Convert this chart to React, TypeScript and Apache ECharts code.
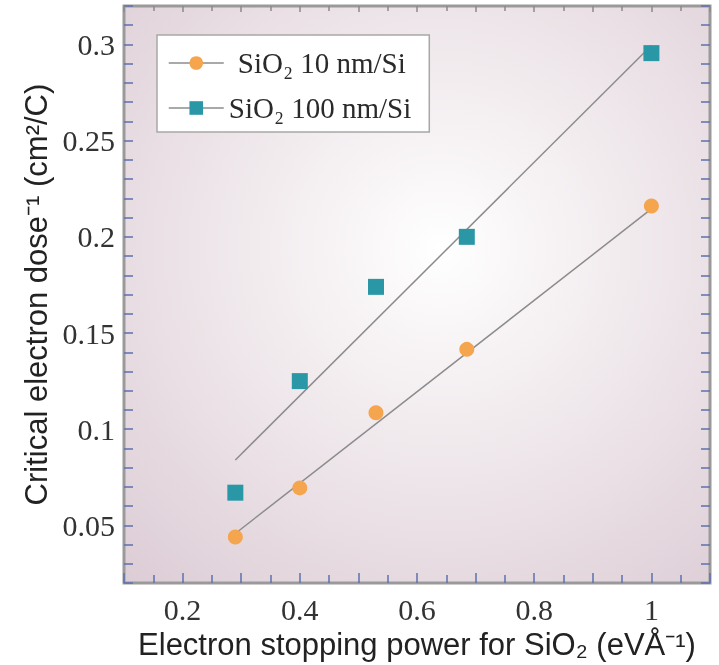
import React, { useEffect, useRef } from "react";
import * as echarts from "echarts";

const stoppingPower = [0.29, 0.4, 0.53, 0.685, 1.0];
const dose10nm = [0.044, 0.0695, 0.1085, 0.1415, 0.216];
const dose100nm = [0.067, 0.125, 0.174, 0.2, 0.2955];
const fit10nmX = [0.29, 1.0];
const fit10nmY = [0.0458, 0.2145];
const fit100nmX = [0.29, 1.0];
const fit100nmY = [0.084, 0.2995];
const seriesNames = ["SiO\u2082 10 nm/Si", "SiO\u2082 100 nm/Si"];
const xLabelTicks = [0.2, 0.4, 0.6, 0.8, 1];
const yLabelTicks = [0.05, 0.1, 0.15, 0.2, 0.25, 0.3];

const SERIF = "'Liberation Serif', 'Times New Roman', serif";
const SANS = "'Liberation Sans', Arial, sans-serif";
const TICK_BLUE = "#5d70ad";

function near(v: number, list: number[]) {
  return list.some((t) => Math.abs(t - v) < 1e-6);
}

export default function App() {
  const ref = useRef<HTMLDivElement>(null);
  useEffect(() => {
    if (!ref.current) return;
    const chart = echarts.init(ref.current, undefined, { renderer: "svg" });
    const pair = (xs: number[], ys: number[]) => xs.map((x, i) => [x, ys[i]]);
    const fmt = (v: number) => String(Number(v.toFixed(3)));
    const option: any = {
      animation: false,
      grid: {
        left: 124,
        right: 9,
        top: 6,
        bottom: 81,
        show: true,
        borderColor: "#9a9a9a",
        borderWidth: 3,
        backgroundColor: new echarts.graphic.RadialGradient(0.54, 0.42, 0.78, [
          { offset: 0, color: "#ffffff" },
          { offset: 0.5, color: "#eee6ea" },
          { offset: 1, color: "#ddcdd6" },
        ]),
      },
      legend: {
        data: seriesNames,
        orient: "vertical",
        left: 157,
        top: 35,
        itemWidth: 55,
        itemHeight: 17,
        itemGap: 15,
        padding: [13, 18, 9, 11],
        backgroundColor: "#ffffff",
        borderColor: "#a8a8a8",
        borderWidth: 1.5,
        borderRadius: 0,
        lineStyle: { color: "#8c8c8c", width: 1.5, opacity: 1 },
        textStyle: {
          fontFamily: SERIF,
          fontSize: 29,
          lineHeight: 30,
          color: "#2a2a2a",
          rich: {
            a: { fontFamily: SERIF, fontSize: 29, lineHeight: 30, color: "#2a2a2a", padding: [0, 0, 0, 9] },
            b: { fontFamily: SERIF, fontSize: 29, lineHeight: 30, color: "#2a2a2a" },
          },
        },
        formatter: (name: string) => (name === seriesNames[0] ? `{a|${name}}` : `{b|${name}}`),
      },
      xAxis: [
        {
          type: "value",
          position: "bottom",
          min: 0.1,
          max: 1.1,
          interval: 0.1,
          name: "Electron stopping power for SiO\u2082 (eV\u00c5\u207b\u00b9)",
          nameLocation: "middle",
          nameGap: 43,
          nameTextStyle: { fontFamily: SANS, fontSize: 31, color: "#222" },
          axisLine: { show: false },
          axisTick: { show: true, inside: true, length: 10, lineStyle: { color: TICK_BLUE, width: 1.5 } },
          minorTick: { show: true, splitNumber: 2, length: 8, lineStyle: { color: TICK_BLUE, width: 1.5 } },
          splitLine: { show: false },
          axisLabel: {
            margin: 11,
            fontFamily: SERIF,
            fontSize: 30,
            color: "#333",
            formatter: (v: number) => (near(v, xLabelTicks) ? fmt(v) : ""),
          },
        },
        {
          type: "value",
          position: "top",
          min: 0.1,
          max: 1.1,
          interval: 0.1,
          axisLine: { show: false },
          axisTick: { show: true, inside: true, length: 6, lineStyle: { color: "#8a8a8a", width: 1.5 } },
          minorTick: { show: true, splitNumber: 2, length: 5, lineStyle: { color: "#8a8a8a", width: 1.5 } },
          splitLine: { show: false },
          axisLabel: { show: false },
        },
      ],
      yAxis: [
        {
          type: "value",
          position: "left",
          min: 0.02,
          max: 0.32,
          interval: 0.01,
          name: "Critical electron dose\u207b\u00b9 (cm\u00b2/C)",
          nameLocation: "middle",
          nameGap: 72,
          nameTextStyle: { fontFamily: SANS, fontSize: 31, color: "#222" },
          axisLine: { show: false },
          axisTick: { show: true, inside: true, length: 9, lineStyle: { color: TICK_BLUE, width: 1.5 } },
          splitLine: { show: false },
          axisLabel: {
            margin: 9,
            fontFamily: SERIF,
            fontSize: 30,
            color: "#333",
            formatter: (v: number) => (near(v, yLabelTicks) ? fmt(v) : ""),
          },
        },
        {
          type: "value",
          position: "right",
          min: 0.02,
          max: 0.32,
          interval: 0.01,
          axisLine: { show: false },
          axisTick: { show: true, inside: true, length: 9, lineStyle: { color: TICK_BLUE, width: 1.5 } },
          splitLine: { show: false },
          axisLabel: { show: false },
        },
      ],
      series: [
        {
          name: "fit10",
          type: "line",
          data: pair(fit10nmX, fit10nmY),
          symbol: "none",
          silent: true,
          lineStyle: { color: "#8c8c8c", width: 1.5 },
          z: 1,
        },
        {
          name: "fit100",
          type: "line",
          data: pair(fit100nmX, fit100nmY),
          symbol: "none",
          silent: true,
          lineStyle: { color: "#8c8c8c", width: 1.5 },
          z: 1,
        },
        {
          name: seriesNames[0],
          type: "line",
          data: pair(stoppingPower, dose10nm),
          symbol: "circle",
          symbolSize: 15,
          showSymbol: true,
          lineStyle: { width: 0, opacity: 0 },
          itemStyle: { color: "#f5a54d" },
          z: 3,
        },
        {
          name: seriesNames[1],
          type: "line",
          data: pair(stoppingPower, dose100nm),
          symbol: "rect",
          symbolSize: 16,
          showSymbol: true,
          lineStyle: { width: 0, opacity: 0 },
          itemStyle: { color: "#2a97a6" },
          z: 3,
        },
      ],
    };
    chart.setOption(option);
    return () => chart.dispose();
  }, []);
  return (
    <div
      ref={ref}
      style={{ position: "fixed", left: 0, top: 0, width: 719, height: 665 }}
    />
  );
}
